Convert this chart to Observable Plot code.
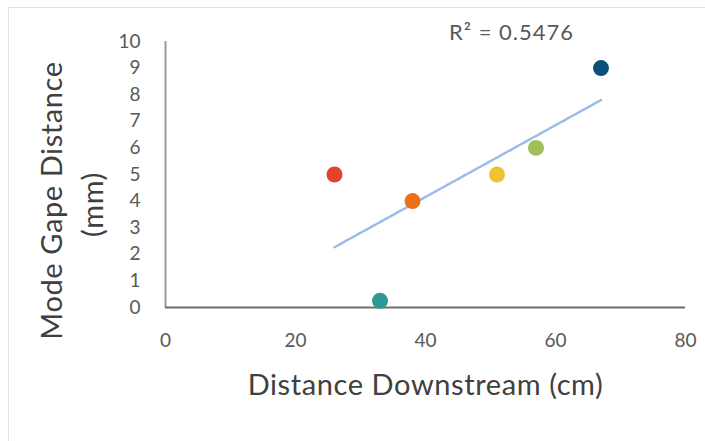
<!DOCTYPE html>
<html>
<head>
<meta charset="utf-8">
<script src="https://cdn.jsdelivr.net/npm/d3@7"></script>
<script src="https://cdn.jsdelivr.net/npm/@observablehq/plot@0.6"></script>
<style>
  html, body { margin: 0; padding: 0; background: #fff; }
  #wrap { position: relative; width: 705px; height: 441px; overflow: hidden; }
  #border { position: absolute; left: 8px; top: 7px; width: 720px; height: 460px; border: 1.5px solid #e2e2e2; pointer-events: none; }
  svg { display: block; }
  .wide text { letter-spacing: 0.6px; }
  .r2 text { letter-spacing: 1px; }
</style>
</head>
<body>
<div id="wrap"><div id="border"></div></div>
<script>
// Data
const pointIds = ["A", "B", "C", "D", "E", "F"];
const distanceDownstream = [26, 38, 33, 51, 57, 67];
const modeGapeDistance = [5, 4, 0.25, 5, 6, 9];
const pointColors = ["#e2432a", "#eb7116", "#2d9894", "#f0c232", "#a3bf57", "#0b4f7b"];
const xTicks = [0, 20, 40, 60, 80];
const yTicks = [0, 1, 2, 3, 4, 5, 6, 7, 8, 9, 10];
const xLabel = "Distance Downstream (cm)";
const yLabelLines = ["Mode Gape Distance", "(mm)"];
const r2Label = ["R² = 0.5476"];

const data = pointIds.map((id, i) => ({id, x: distanceDownstream[i], y: modeGapeDistance[i]}));

const font = "Lato, 'Open Sans', sans-serif";
const chart = Plot.plot({
  width: 705,
  height: 441,
  marginLeft: 165,
  marginRight: 20,
  marginTop: 41,
  marginBottom: 134,
  style: {fontFamily: font, background: "transparent", overflow: "visible"},
  x: {domain: [0, 80], ticks: xTicks, label: null},
  y: {domain: [0, 10], ticks: yTicks, label: null},
  color: {type: "ordinal", domain: pointIds, range: pointColors},
  marks: [
    Plot.axisX({ticks: xTicks, tickSize: 0, tickPadding: 26, fontSize: 19, fill: "#595959", label: null}),
    Plot.axisY({ticks: yTicks, tickSize: 0, tickPadding: 25, fontSize: 19, fill: "#595959", label: null}),
    Plot.ruleX([0], {y1: 0, y2: 10, stroke: "#9a9a9a", strokeWidth: 2}),
    Plot.ruleY([0], {stroke: "#6e6e6e", strokeWidth: 2}),
    Plot.linearRegressionY(data, {x: "x", y: "y", ci: 0, stroke: "#9dbbe8", strokeWidth: 2.5, strokeDasharray: "1,1"}),
    Plot.dot(data, {x: "x", y: "y", fill: "id", r: 8, stroke: null}),
    Plot.text(r2Label, {text: d => d, frameAnchor: "top", lineAnchor: "middle", textAnchor: "middle", dx: 86, dy: -9, fontSize: 22, fill: "#595959", className: "r2"}),
    Plot.text([xLabel], {text: d => d, frameAnchor: "bottom", lineAnchor: "middle", textAnchor: "middle", dy: 78, fontSize: 29, fill: "#404040", className: "wide"}),
    Plot.text([yLabelLines[0]], {text: d => d, frameAnchor: "left", lineAnchor: "middle", textAnchor: "middle", rotate: -90, dx: -113, dy: 26, fontSize: 29, fill: "#404040", className: "wide"}),
    Plot.text([yLabelLines[1]], {text: d => d, frameAnchor: "left", lineAnchor: "middle", textAnchor: "middle", rotate: -90, dx: -72, dy: 30, fontSize: 29, fill: "#404040", className: "wide"})
  ]
});
document.getElementById("wrap").prepend(chart);
</script>
</body>
</html>
